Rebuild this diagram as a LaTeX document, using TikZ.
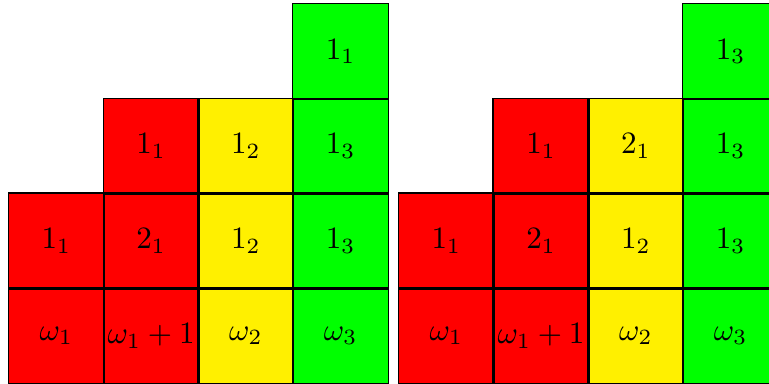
\documentclass[tikz,border=0pt]{standalone}
\usepackage{amsmath, amssymb}
\usepackage{tikz}
\usetikzlibrary{positioning}
\definecolor{cellRed}{RGB}{255,0,0}
\definecolor{cellYellow}{RGB}{255,240,0}
\definecolor{cellGreen}{RGB}{0,255,0}
\tikzset{
  cell/.style={rectangle, inner sep=0pt, minimum size=1.07cm},
  redC/.style={cell, fill=cellRed},
  yellowC/.style={cell, fill=cellYellow},
  greenC/.style={cell, fill=cellGreen},
  border/.style={draw=black, line width=0.4pt},
}
\begin{document}
\begin{tikzpicture}[x=1.07cm, y=1.07cm]
    \useasboundingbox (-0.095,-0.008) rectangle (8.021,4.043);
    %% left filling
    \node[redC]    (l11) at (0.5,0.5) {$\omega_1$};
    \node[redC]    (l12) at (1.5,0.5) {$\omega_1+1$};
    \node[yellowC] (l13) at (2.5,0.5) {$\omega_2$};
    \node[greenC]  (l14) at (3.5,0.5) {$\omega_3$};
    \node[redC]    (l21) at (0.5,1.5) {$1_1$};
    \node[redC]    (l22) at (1.5,1.5) {$2_1$};
    \node[yellowC] (l23) at (2.5,1.5) {$1_2$};
    \node[greenC]  (l24) at (3.5,1.5) {$1_3$};
    \node[redC]    (l32) at (1.5,2.5) {$1_1$};
    \node[yellowC] (l33) at (2.5,2.5) {$1_2$};
    \node[greenC]  (l34) at (3.5,2.5) {$1_3$};
    \node[greenC]  (l44) at (3.5,3.5) {$1_1$};
    %% right filling
    \node[redC]    (r11) at (4.616,0.5) {$\omega_1$};
    \node[redC]    (r12) at (5.616,0.5) {$\omega_1+1$};
    \node[yellowC] (r13) at (6.616,0.5) {$\omega_2$};
    \node[greenC]  (r14) at (7.616,0.5) {$\omega_3$};
    \node[redC]    (r21) at (4.616,1.5) {$1_1$};
    \node[redC]    (r22) at (5.616,1.5) {$2_1$};
    \node[yellowC] (r23) at (6.616,1.5) {$1_2$};
    \node[greenC]  (r24) at (7.616,1.5) {$1_3$};
    \node[redC]    (r32) at (5.616,2.5) {$1_1$};
    \node[yellowC] (r33) at (6.616,2.5) {$2_1$};
    \node[greenC]  (r34) at (7.616,2.5) {$1_3$};
    \node[greenC]  (r44) at (7.616,3.5) {$1_3$};
    %% cell borders on top of all fills
    \foreach \c in {l11,l12,l13,l14,l21,l22,l23,l24,l32,l33,l34,l44,
                    r11,r12,r13,r14,r21,r22,r23,r24,r32,r33,r34,r44}
      \draw[border] (\c.south west) rectangle (\c.north east);
\end{tikzpicture}
\end{document}
